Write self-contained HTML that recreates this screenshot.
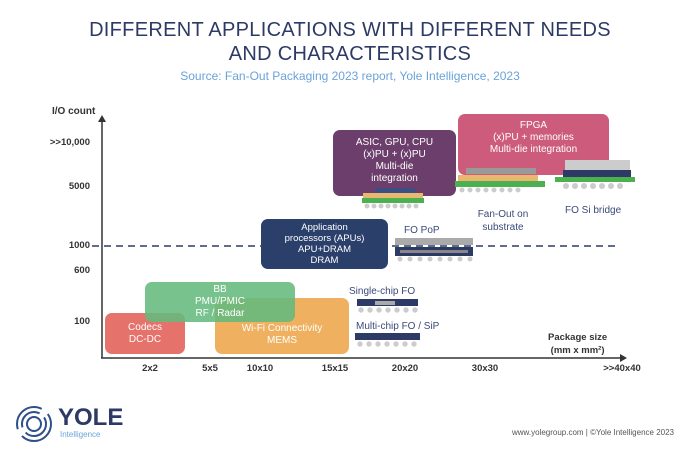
<!DOCTYPE html>
<html><head><meta charset="utf-8"><style>
body{margin:0;width:700px;height:452px;background:#fff;position:relative;overflow:hidden;font-family:"Liberation Sans",sans-serif;}
.a{position:absolute;}
.t{color:#2d3a66;}
.box{position:absolute;border-radius:7px;color:#fff;text-align:center;font-size:10px;line-height:12px;box-sizing:border-box;}
.yl{position:absolute;right:610px;font-size:9.5px;font-weight:bold;color:#333;}
.xl{position:absolute;top:363px;font-size:9.5px;font-weight:bold;color:#333;transform:translateX(-50%);}
.lab{position:absolute;font-size:10px;color:#3a4a78;text-align:center;line-height:13px;}
</style></head><body>
<div class="a t" style="left:0;width:700px;top:18px;text-align:center;font-size:20px;line-height:24px;letter-spacing:0.3px">DIFFERENT APPLICATIONS WITH DIFFERENT NEEDS<br>AND CHARACTERISTICS</div>
<div class="a" style="left:0;width:700px;top:69px;text-align:center;font-size:12px;color:#6aa3d8">Source: Fan-Out Packaging 2023 report, Yole Intelligence, 2023</div>

<div class="a" style="left:52px;top:106px;font-size:10px;font-weight:bold;color:#333">I/O count</div>
<div class="yl" style="top:137px">&gt;&gt;10,000</div>
<div class="yl" style="top:181px">5000</div>
<div class="yl" style="top:240px">1000</div>
<div class="yl" style="top:265px">600</div>
<div class="yl" style="top:316px">100</div>

<svg class="a" style="left:0;top:0" width="700" height="452">
<line x1="102" y1="358" x2="102" y2="120" stroke="#333" stroke-width="1.5"/>
<polygon points="98,122 102,115 106,122" fill="#333"/>
<line x1="101" y1="358" x2="622" y2="358" stroke="#333" stroke-width="1.5"/>
<polygon points="620,354 627,358 620,362" fill="#333"/>
<line x1="92" y1="246" x2="620" y2="246" stroke="#2d3a66" stroke-width="1.6" stroke-dasharray="7,5"/>
</svg>

<div class="xl" style="left:150px">2x2</div>
<div class="xl" style="left:210px">5x5</div>
<div class="xl" style="left:260px">10x10</div>
<div class="xl" style="left:335px">15x15</div>
<div class="xl" style="left:405px">20x20</div>
<div class="xl" style="left:485px">30x30</div>
<div class="xl" style="left:622px">&gt;&gt;40x40</div>
<div class="a" style="left:548px;top:331px;font-size:9.5px;font-weight:bold;color:#333;text-align:center;line-height:13px">Package size<br>(mm x mm²)</div>

<div class="box" style="left:105px;top:313px;width:80px;height:41px;background:#e6726c;padding-top:9px">Codecs<br>DC-DC</div>
<div class="box" style="left:215px;top:298px;width:134px;height:56px;background:#efb160;padding-top:25px">Wi-Fi Connectivity<br>MEMS</div>
<div class="box" style="left:145px;top:282px;width:150px;height:40px;background:rgba(100,185,125,0.88);padding-top:2px">BB<br>PMU/PMIC<br>RF / Radar</div>
<div class="box" style="left:261px;top:219px;width:127px;height:50px;background:#2b3f6b;padding-top:3px;line-height:11px;font-size:9.5px">Application<br>processors (APUs)<br>APU+DRAM<br>DRAM</div>
<div class="box" style="left:333px;top:130px;width:123px;height:66px;background:rgba(100,52,100,0.95);padding-top:7px">ASIC, GPU, CPU<br>(x)PU + (x)PU<br>Multi-die<br>integration</div>
<div class="box" style="left:458px;top:114px;width:151px;height:61px;background:rgba(196,62,100,0.85);padding-top:6px">FPGA<br>(x)PU + memories<br>Multi-die integration</div>

<svg class="a" style="left:0;top:0" width="700" height="452">
<g><rect x="375" y="188" width="40" height="5" fill="#3b4f85"/><rect x="363" y="193" width="60" height="5" fill="#e8b870"/><rect x="362" y="198" width="62" height="5" fill="#4caf50"/><g fill="#ccc"><circle cx="367" cy="206" r="2.5"/><circle cx="374" cy="206" r="2.5"/><circle cx="381" cy="206" r="2.5"/><circle cx="388" cy="206" r="2.5"/><circle cx="395" cy="206" r="2.5"/><circle cx="402" cy="206" r="2.5"/><circle cx="409" cy="206" r="2.5"/><circle cx="416" cy="206" r="2.5"/></g></g>
<g><rect x="466" y="168" width="70" height="6" fill="#999"/><rect x="458" y="175" width="80" height="6" fill="#e8b870"/><rect x="455" y="181" width="90" height="6" fill="#4caf50"/><g fill="#ccc"><circle cx="462" cy="190" r="2.5"/><circle cx="470" cy="190" r="2.5"/><circle cx="478" cy="190" r="2.5"/><circle cx="486" cy="190" r="2.5"/><circle cx="494" cy="190" r="2.5"/><circle cx="502" cy="190" r="2.5"/><circle cx="510" cy="190" r="2.5"/><circle cx="518" cy="190" r="2.5"/></g></g>
<g><rect x="565" y="160" width="65" height="10" fill="#ccc"/><rect x="563" y="170" width="68" height="7" fill="#2d3a66"/><rect x="555" y="177" width="80" height="5" fill="#4caf50"/><g fill="#ccc"><circle cx="566" cy="186" r="3"/><circle cx="575" cy="186" r="3"/><circle cx="584" cy="186" r="3"/><circle cx="593" cy="186" r="3"/><circle cx="602" cy="186" r="3"/><circle cx="611" cy="186" r="3"/><circle cx="620" cy="186" r="3"/></g></g>
<g><rect x="395" y="238" width="78" height="7" fill="#aaa"/><rect x="395" y="247" width="78" height="9" fill="#2d3a66"/><rect x="400" y="250" width="68" height="3" fill="#888"/><g fill="#ccc"><circle cx="400" cy="259" r="2.5"/><circle cx="410" cy="259" r="2.5"/><circle cx="420" cy="259" r="2.5"/><circle cx="430" cy="259" r="2.5"/><circle cx="440" cy="259" r="2.5"/><circle cx="450" cy="259" r="2.5"/><circle cx="460" cy="259" r="2.5"/><circle cx="470" cy="259" r="2.5"/></g></g>
<g><rect x="357" y="299" width="61" height="7" fill="#2d3a66"/><rect x="375" y="301" width="20" height="4" fill="#aaa"/><g fill="#ccc"><circle cx="361" cy="310" r="2.7"/><circle cx="370" cy="310" r="2.7"/><circle cx="379" cy="310" r="2.7"/><circle cx="388" cy="310" r="2.7"/><circle cx="397" cy="310" r="2.7"/><circle cx="406" cy="310" r="2.7"/><circle cx="415" cy="310" r="2.7"/></g></g>
<g><rect x="355" y="333" width="65" height="7" fill="#2d3a66"/><g fill="#ccc"><circle cx="360" cy="344" r="2.7"/><circle cx="369" cy="344" r="2.7"/><circle cx="378" cy="344" r="2.7"/><circle cx="387" cy="344" r="2.7"/><circle cx="396" cy="344" r="2.7"/><circle cx="405" cy="344" r="2.7"/><circle cx="414" cy="344" r="2.7"/></g></g>
</svg>

<div class="lab" style="left:468px;top:208px;width:70px">Fan-Out on<br>substrate</div>
<div class="lab" style="left:565px;top:204px">FO Si bridge</div>
<div class="lab" style="left:404px;top:224px">FO PoP</div>
<div class="lab" style="left:349px;top:285px">Single-chip FO</div>
<div class="lab" style="left:356px;top:320px">Multi-chip FO / SiP</div>

<svg class="a" style="left:14px;top:404px" width="40" height="40">
<g fill="none" stroke="#2d4f8a" stroke-width="2"><circle cx="20" cy="20" r="17" stroke-dasharray="40,8"/><circle cx="20" cy="20" r="12" stroke-dasharray="28,6"/><circle cx="20" cy="20" r="7"/></g></svg>
<div class="a" style="left:58px;top:406px;font-size:24px;font-weight:bold;color:#2d3a66;line-height:24px">YOLE</div>
<div class="a" style="left:60px;top:430px;font-size:8px;color:#6aa3d8">Intelligence</div>
<div class="a" style="left:512px;top:428px;font-size:8px;color:#555">www.yolegroup.com | ©Yole Intelligence 2023</div>
</body></html>
